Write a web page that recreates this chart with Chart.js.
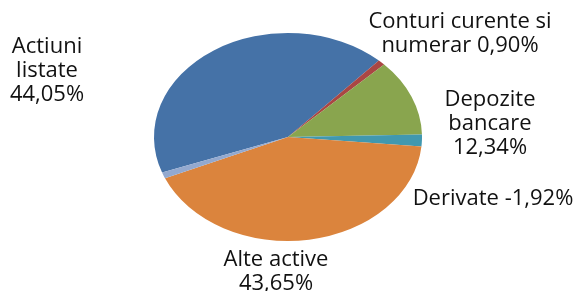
<!DOCTYPE html>
<html>
<head>
<meta charset="utf-8">
<script src="https://cdn.jsdelivr.net/npm/chart.js@4/dist/chart.umd.min.js"></script>
<style>
  html, body { margin: 0; padding: 0; background: #fff; }
  #wrap { width: 579px; height: 291px; }
</style>
</head>
<body>
<div id="wrap"><canvas id="pieChart" width="579" height="291"></canvas></div>
<script>
// data (Derivate is negative, drawn by its size)
const categories = ["Actiuni listate", "Conturi curente si numerar", "Depozite bancare", "Derivate", "Alte active", "Altele"];
const values = [44.05, 0.90, 12.34, -1.92, 43.65, 0.98];
const colors = ["#4572A7", "#AA4643", "#89A54E", "#4198AF", "#DB843D", "#93A9CF"];

// where each label sits (centre x, first line centre y, wrap width); null = no label
const labelSpots = [
  { x: 47, y: 47, w: 82 },
  { x: 460, y: 21.5, w: 200 },
  { x: 490, y: 100, w: 104 },
  { x: 493, y: 198.5, w: 210 },
  { x: 276, y: 260, w: 130 },
  null,
];

const FONT = "22px 'Open Sans'";
const LINE_H = 23.8;
const SQUASH = 104 / 134; // pie is drawn as a flat ellipse

function fmt(v) {
  return v.toFixed(2).replace(".", ",") + "%";
}

function wrap(ctx, text, maxW) {
  const words = text.split(" ");
  const lines = [];
  let cur = "";
  words.forEach((w) => {
    const test = cur ? cur + " " + w : w;
    if (cur && ctx.measureText(test).width > maxW) {
      lines.push(cur);
      cur = w;
    } else {
      cur = test;
    }
  });
  if (cur) lines.push(cur);
  return lines;
}

const ellipsePlugin = {
  id: "ellipse",
  beforeDatasetsDraw(chart) {
    const { ctx, chartArea } = chart;
    const cx = (chartArea.left + chartArea.right) / 2;
    const cy = (chartArea.top + chartArea.bottom) / 2;
    ctx.save();
    ctx.translate(cx, cy);
    ctx.scale(1, SQUASH);
    ctx.translate(-cx, -cy);
  },
  afterDatasetsDraw(chart) {
    chart.ctx.restore();
  },
};

const labelPlugin = {
  id: "pieLabels",
  afterDraw(chart) {
    const ctx = chart.ctx;
    ctx.save();
    ctx.font = FONT;
    ctx.fillStyle = "#111";
    ctx.textAlign = "center";
    ctx.textBaseline = "middle";
    categories.forEach((name, i) => {
      const spot = labelSpots[i];
      if (!spot) return;
      const lines = wrap(ctx, name + " " + fmt(values[i]), spot.w);
      lines.forEach((ln, k) => ctx.fillText(ln, spot.x, spot.y + k * LINE_H));
    });
    ctx.restore();
  },
};

new Chart(document.getElementById("pieChart"), {
  type: "pie",
  data: {
    labels: categories,
    datasets: [
      {
        data: values,
        backgroundColor: colors,
        borderWidth: 0,
      },
    ],
  },
  options: {
    responsive: false,
    animation: false,
    rotation: 250,
    layout: {
      padding: { left: 154, right: 157, top: 3, bottom: 20 },
    },
    plugins: {
      legend: { display: false },
      tooltip: { enabled: false },
    },
  },
  plugins: [ellipsePlugin, labelPlugin],
});
</script>
</body>
</html>
